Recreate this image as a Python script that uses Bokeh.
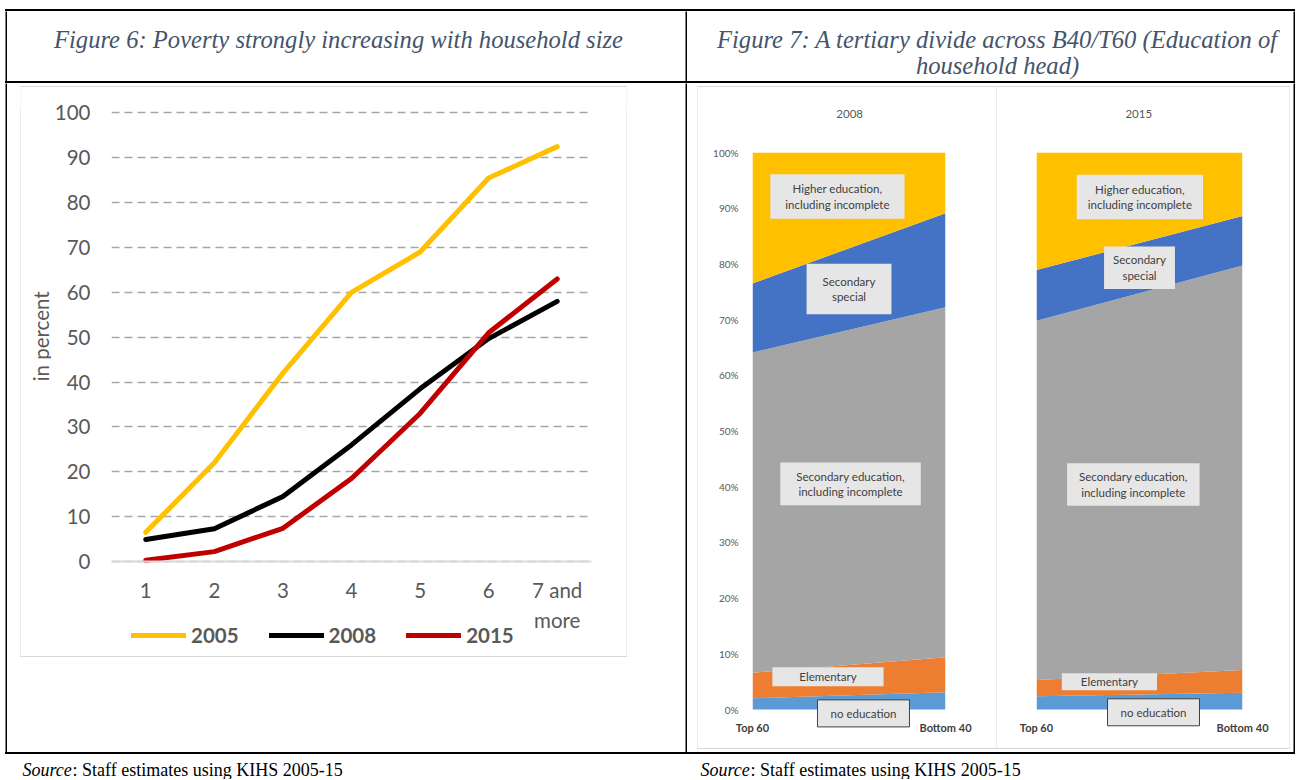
import math
import numpy as np
from bokeh.plotting import figure
from bokeh.layouts import row, column
from bokeh.models import (Range1d, FixedTicker, Label, Legend, LegendItem,
                          Spacer, NumeralTickFormatter, Span, Div)
from bokeh.embed import file_html
from bokeh.resources import INLINE
from bokeh.core.properties import value

# ---------------- data ----------------
household_size = [1, 2, 3, 4, 5, 6, 7]
size_labels = ["1", "2", "3", "4", "5", "6", "7 and\nmore"]
poverty_2005 = [6.5, 22.0, 42.0, 60.0, 69.0, 85.5, 92.5]
poverty_2008 = [4.9, 7.3, 14.5, 26.0, 38.5, 49.7, 58.0]
poverty_2015 = [0.3, 2.2, 7.4, 18.5, 33.0, 51.0, 63.0]
series_years = ["2005", "2008", "2015"]
percent_ticks = [0, 10, 20, 30, 40, 50, 60, 70, 80, 90, 100]

groups = ["Top 60", "Bottom 40"]
group_pos = [0, 1]
education_levels = ["no education", "Elementary",
                    "Secondary education,\nincluding incomplete",
                    "Secondary\nspecial",
                    "Higher education,\nincluding incomplete"]
share_2008_top60 = [2.0, 4.6, 57.5, 12.4, 23.5]
share_2008_bottom40 = [3.1, 6.3, 62.8, 16.9, 10.9]
share_2015_top60 = [2.4, 2.9, 64.5, 9.1, 21.1]
share_2015_bottom40 = [3.0, 4.1, 72.6, 8.9, 11.4]
share_ticks = [0.0, 0.1, 0.2, 0.3, 0.4, 0.5, 0.6, 0.7, 0.8, 0.9, 1.0]
panel_years = ["2008", "2015"]

# ---------------- styles ----------------
FIG = dict(output_backend="svg", toolbar_location=None, title=None)
BLACK = "#000000"
FRAME_GRAY = "#D9D9D9"
TXT = "#595959"
DARK = "#404040"
TITLE_COL = "#44546A"
SERIF = "Liberation Serif"
SANS = "Lato"
line_colors = ["#FFC000", "#000000", "#C00000"]
edu_colors = ["#5B9BD5", "#ED7D31", "#A5A5A5", "#4472C4", "#FFC000"]


def vblock(w, h, color):
    f = figure(width=w, height=h, min_border=0, x_axis_type=None, y_axis_type=None,
               outline_line_color=None, background_fill_color=color,
               border_fill_color=color, x_range=Range1d(0, 1), y_range=Range1d(0, 1), **FIG)
    return f


def hblock(w, h, color):
    return Div(text="", width=w, height=h, margin=0,
               styles={"background-color": color, "overflow": "hidden"})


def text_fig(w, h):
    f = figure(width=w, height=h, min_border=0, x_axis_type=None, y_axis_type=None,
               outline_line_color=None, background_fill_color="white",
               border_fill_color="white", x_range=Range1d(0, w), y_range=Range1d(0, h), **FIG)
    return f


# ---------------- titles ----------------
TITLE_KW = dict(text_font=value(SERIF), text_font_style="italic", text_font_size="24.6px",
                text_color=TITLE_COL, text_align="center", text_baseline="alphabetic")
t6 = text_fig(678, 70)
t6.text(x=[331], y=[42], text=["Figure 6: Poverty strongly increasing with household size"], **TITLE_KW)

t7 = text_fig(606, 70)
t7.text(x=[310, 310], y=[42, 16],
        text=["Figure 7: A tertiary divide across B40/T60 (Education of", "household head)"],
        **TITLE_KW)

# ---------------- line chart ----------------
# frame: top 108 px, value 0 at 561 px, bottom at 655 px (room for the legend)
Y_TOP = 101
PX_PER_UNIT = 453.0 / Y_TOP
Y_START = -94.0 / PX_PER_UNIT

ylab = text_fig(30, 569)
ylab.text(x=[19], y=[332], text=["in percent"], angle=math.pi / 2, text_font=value(SANS),
          text_font_size="20.5px", text_color=TXT, text_align="center", text_baseline="middle")

lc = figure(width=575, height=569, x_range=Range1d(0.5, 7.5), y_range=Range1d(Y_START, Y_TOP),
            min_border_left=59, min_border_right=35, min_border_top=21, min_border_bottom=1,
            x_axis_location=None,
            outline_line_color=None, background_fill_color="white", border_fill_color="white", **FIG)
renderers = []
for vals, col in zip([poverty_2005, poverty_2008, poverty_2015], line_colors):
    r = lc.line(household_size, vals, line_color=col, line_width=5,
                line_join="round", line_cap="round")
    renderers.append(r)

lc.xgrid.visible = False
lc.ygrid.ticker = FixedTicker(ticks=percent_ticks)
lc.ygrid.grid_line_color = "#A6A6A6"
lc.ygrid.grid_line_dash = "8 5"
lc.ygrid.grid_line_width = 1.5
lc.add_layout(Span(location=0, dimension="width", line_color=FRAME_GRAY, line_width=2))

lc.yaxis.ticker = FixedTicker(ticks=percent_ticks)
lc.yaxis.axis_line_color = None
lc.yaxis.major_tick_line_color = None
lc.yaxis.minor_tick_line_color = None
lc.yaxis.major_tick_out = 0
lc.yaxis.major_tick_in = 0
lc.yaxis.minor_tick_out = 0
lc.yaxis.major_label_text_font = SANS
lc.yaxis.major_label_text_font_size = "20.5px"
lc.yaxis.major_label_text_color = TXT
lc.yaxis.major_label_standoff = 21

# category labels of the x axis, placed under the zero line
label_offsets = [16 if "\n" in s else 21 for s in size_labels]
lc.text(x=household_size, y=[0] * len(household_size), text=size_labels, y_offset=label_offsets,
        text_font=value(SANS), text_font_size="20.5px", text_color=TXT,
        text_align="center", text_baseline="top", text_line_height=1.26)

legend = Legend(items=[LegendItem(label=y, renderers=[r]) for y, r in zip(series_years, renderers)],
                orientation="horizontal", location=(20, 8), padding=0, margin=0,
                spacing=30, glyph_width=55, glyph_height=20, label_standoff=5,
                label_text_font=SANS, label_text_font_style="bold",
                label_text_font_size="20.5px", label_text_color=TXT,
                border_line_color=None, background_fill_alpha=0)
lc.add_layout(legend, "center")


# ---------------- stacked area panels ----------------
BELOW_ZERO = 21.0 / 557.0   # frame reaches a little below 0 % so the label boxes are not clipped


def area_panel(top_shares, bottom_shares, width, mb_left, mb_right, show_y, labels):
    f = figure(width=width, height=616, x_range=Range1d(0, 1), y_range=Range1d(-BELOW_ZERO, 1),
               min_border_left=mb_left, min_border_right=mb_right,
               min_border_top=20, min_border_bottom=18,
               outline_line_color=None, background_fill_color="white",
               border_fill_color="white", y_axis_type="linear" if show_y else None, **FIG)
    cum_t = np.concatenate([[0], np.cumsum(top_shares)]) / 100.0
    cum_b = np.concatenate([[0], np.cumsum(bottom_shares)]) / 100.0
    for i, col in enumerate(edu_colors):
        f.varea(x=group_pos, y1=[cum_t[i], cum_b[i]], y2=[cum_t[i + 1], cum_b[i + 1]],
                fill_color=col)
    f.grid.visible = False
    f.xaxis.ticker = FixedTicker(ticks=group_pos)
    f.xaxis.major_label_overrides = {p: g for p, g in zip(group_pos, groups)}
    f.xaxis.axis_line_color = None
    f.xaxis.major_tick_line_color = None
    f.xaxis.minor_tick_line_color = None
    f.xaxis.major_label_text_font = SANS
    f.xaxis.major_label_text_font_style = "bold"
    f.xaxis.major_label_text_font_size = "11px"
    f.xaxis.major_label_text_color = DARK
    f.xaxis.major_label_standoff = -16
    if show_y:
        f.yaxis.ticker = FixedTicker(ticks=share_ticks)
        f.yaxis.formatter = NumeralTickFormatter(format="0%")
        f.yaxis.axis_line_color = None
        f.yaxis.major_tick_line_color = None
        f.yaxis.minor_tick_line_color = None
        f.yaxis.major_label_text_font = SANS
        f.yaxis.major_label_text_font_size = "10px"
        f.yaxis.major_label_text_color = TXT
        f.yaxis.major_label_standoff = 8
    for (lx, ly, txt, pv, ph, border) in labels:
        f.add_layout(Label(x=lx, y=ly, text=txt, text_align="center", text_baseline="middle",
                           text_font=SANS, text_font_size="11.5px", text_color=DARK,
                           background_fill_color="#E7E6E6",
                           border_line_color=DARK if border else None, border_line_width=1,
                           padding=dict(left=ph, right=ph, top=pv, bottom=pv)))
    return f


labels_2008 = [
    (0.44, 0.921, education_levels[4], 8, 15, False),
    (0.50, 0.755, education_levels[3], 11, 16, False),
    (0.508, 0.405, education_levels[2], 7, 16, False),
    (0.391, 0.059, education_levels[1], 3, 27, False),
    (0.575, -0.007, education_levels[0], 7, 13, True),
]
labels_2015 = [
    (0.502, 0.920, education_levels[4], 8, 11, False),
    (0.50, 0.793, education_levels[3], 7, 9, False),
    (0.47, 0.404, education_levels[2], 7, 12, False),
    (0.354, 0.050, education_levels[1], 2, 19, False),
    (0.568, -0.005, education_levels[0], 7, 13, True),
]

a08 = area_panel(share_2008_top60, share_2008_bottom40, 298, 54, 51, True, labels_2008)
a15 = area_panel(share_2015_top60, share_2015_bottom40, 292, 39, 47, False, labels_2015)


def panel_title(w, x, txt):
    f = text_fig(w, 45)
    f.text(x=[x], y=[19], text=[txt], text_font=value(SANS), text_font_size="11.5px",
           text_color=TXT, text_align="center", text_baseline="middle")
    return f


p08 = column(panel_title(298, 150, panel_years[0]), a08, spacing=0)
p15 = column(panel_title(292, 145, panel_years[1]), a15, spacing=0)

# ---------------- source row ----------------
src = text_fig(1295, 25)
for sx in [22, 700]:
    src.text(x=[sx], y=[10], text=["Source"], text_font=value(SERIF), text_font_style="italic",
             text_font_size="18px", text_color=BLACK, text_align="left", text_baseline="alphabetic")
    src.text(x=[sx + 50], y=[10], text=[": Staff estimates using KIHS 2005-15"], text_font=value(SERIF),
             text_font_size="18px", text_color=BLACK, text_align="left", text_baseline="alphabetic")

# ---------------- assemble ----------------
chart_box = column(hblock(607, 1, FRAME_GRAY),
                   row(vblock(1, 569, FRAME_GRAY), ylab, lc, vblock(1, 569, FRAME_GRAY), spacing=0),
                   hblock(607, 1, FRAME_GRAY), spacing=0)
left_cell = column(Spacer(width=678, height=3),
                   row(Spacer(width=13, height=571), chart_box, Spacer(width=58, height=571), spacing=0),
                   Spacer(width=678, height=95), spacing=0)

area_box = column(hblock(593, 1, FRAME_GRAY),
                  row(vblock(1, 661, FRAME_GRAY), p08, vblock(1, 661, FRAME_GRAY), p15,
                      vblock(1, 661, FRAME_GRAY), spacing=0),
                  hblock(593, 1, FRAME_GRAY), spacing=0)
right_cell = column(Spacer(width=606, height=3),
                    row(Spacer(width=10, height=663), area_box, Spacer(width=3, height=663), spacing=0),
                    Spacer(width=606, height=3), spacing=0)


def hrule(h, color):
    return row(Spacer(width=5, height=h), hblock(1290, h, color), spacing=0)


title_row = row(Spacer(width=5, height=70), vblock(2, 70, BLACK), t6, vblock(2, 70, BLACK), t7,
                vblock(2, 70, BLACK), spacing=0)
chart_row = row(Spacer(width=5, height=669), vblock(2, 669, BLACK), left_cell, vblock(2, 669, BLACK),
                right_cell, vblock(2, 669, BLACK), spacing=0)

page = column(Spacer(width=1295, height=9), hrule(2, BLACK), title_row, hrule(2, BLACK),
              chart_row, hrule(2, BLACK), src, spacing=0)

open("out.html", "w").write(file_html(page, INLINE, "Figures 6 and 7"))
